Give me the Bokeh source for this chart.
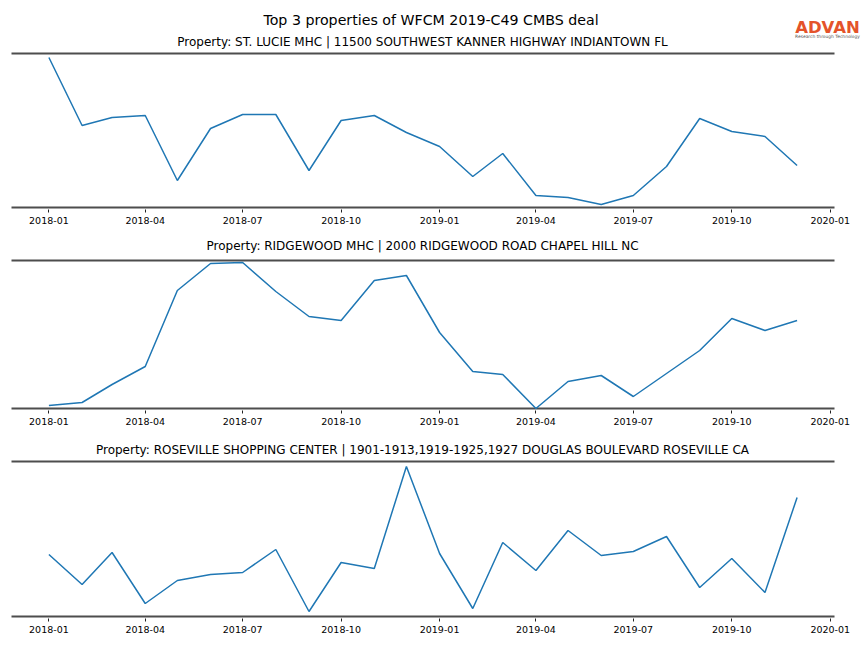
import pandas as pd
from bokeh.plotting import figure
from bokeh.layouts import column
from bokeh.models import Label, FixedTicker, DatetimeTickFormatter, Range1d
from bokeh.embed import file_html
from bokeh.resources import INLINE

# ---------------- data ----------------
months = pd.date_range("2018-01-01", "2019-12-01", freq="MS")
tick_labels = ["2018-01", "2018-04", "2018-07", "2018-10", "2019-01",
               "2019-04", "2019-07", "2019-10", "2020-01"]

main_title = "Top 3 properties of WFCM 2019-C49 CMBS deal"
panel_titles = [
    "Property: ST. LUCIE MHC | 11500 SOUTHWEST KANNER HIGHWAY INDIANTOWN FL",
    "Property: RIDGEWOOD MHC | 2000 RIDGEWOOD ROAD CHAPEL HILL NC",
    "Property: ROSEVILLE SHOPPING CENTER | 1901-1913,1919-1925,1927 DOUGLAS BOULEVARD ROSEVILLE CA",
]
logo_text = "ADVAN"
logo_tagline = "Research through Technology"

# relative foot-traffic index (no y scale shown in the original)
st_lucie = [150, 82, 90, 92, 27, 79, 93, 93, 37, 87, 92, 75,
            61, 31, 54, 12, 10, 3, 12, 41, 89, 76, 71, 42]
ridgewood = [3, 6, 24, 42, 118, 145, 146, 117, 92, 88, 128, 133,
             76, 37, 34, 0, 27, 33, 12, 35, 58, 90, 78, 88]
roseville = [62, 32, 64, 13, 36, 42, 44, 67, 5, 54, 48, 150,
             63, 8, 74, 46, 86, 61, 65, 80, 29, 58, 24, 119]

series = [st_lucie, ridgewood, roseville]
y_tops = [154, 148, 155]          # upper y-limit of each panel (top spine)

# ---------------- layout / styling ----------------
FONT = "DejaVu Sans"
LINE_COLOR = "#1f77b4"
SPINE_COLOR = "#4d4d4d"
W = 862
AX_LEFT, AX_W = 11, 823           # axes box inside canvas (px)

x0 = months[0].value / 1e6
x1 = months[-1].value / 1e6
span = x1 - x0
x_start, x_end = x0 - 0.05 * span, x1 + 0.05 * span
ms_per_px = (x_end - x_start) / AX_W
fx_start = x_start - AX_LEFT * ms_per_px
fx_end = fx_start + W * ms_per_px
ticks = [pd.Timestamp(t + "-01").value / 1e6 for t in tick_labels]

heights = [231, 204, 204]
borders_bottom = [22, 25, 21]
y_ends = [207, 177, 181]          # extra room above each panel for titles
title_y = [166, 163, 167]

figs = []
for i in range(3):
    p = figure(width=W, height=heights[i], x_axis_type="datetime",
               output_backend="svg", toolbar_location=None,
               x_range=Range1d(fx_start, fx_end),
               y_range=Range1d(-2, y_ends[i]),
               min_border_left=0, min_border_right=0,
               min_border_top=0, min_border_bottom=borders_bottom[i])
    p.outline_line_color = None
    p.xgrid.visible = False
    p.ygrid.visible = False
    p.yaxis.visible = False
    p.background_fill_color = "white"
    p.border_fill_color = "white"

    # spines (bottom and top) spanning the axes box
    p.segment(x0=[x_start, x_start], y0=[0, y_tops[i]],
              x1=[x_end, x_end], y1=[0, y_tops[i]],
              line_color=SPINE_COLOR, line_width=2)

    p.line(months, series[i], line_color=LINE_COLOR, line_width=1.5)

    ax = p.xaxis[0]
    ax.ticker = FixedTicker(ticks=ticks)
    ax.formatter = DatetimeTickFormatter(days="%Y-%m", months="%Y-%m", years="%Y-%m")
    ax.axis_line_color = None
    ax.major_tick_line_color = "#222222"
    ax.major_tick_line_width = 1
    ax.major_tick_in = 0
    ax.major_tick_out = 3
    ax.minor_tick_line_color = None
    ax.major_label_text_font = FONT
    ax.major_label_text_font_size = "9.5px"
    ax.major_label_text_color = "black"
    ax.major_label_standoff = 4

    p.add_layout(Label(x=422, y=title_y[i], x_units="screen", y_units="data",
                       text=panel_titles[i], text_font=FONT,
                       text_font_size="12px", text_color="black",
                       text_align="center", text_baseline="middle"))
    if i == 0:
        p.add_layout(Label(x=430.5, y=188, x_units="screen", y_units="data",
                           text=main_title, text_font=FONT,
                           text_font_size="14.2px", text_color="black",
                           text_align="center", text_baseline="middle"))
        p.add_layout(Label(x=827, y=180, x_units="screen", y_units="data",
                           text=logo_text, text_font=FONT,
                           text_font_size="16.5px", text_font_style="bold",
                           text_color="#e4532a", text_align="center",
                           text_baseline="middle"))
        p.add_layout(Label(x=827, y=171, x_units="screen", y_units="data",
                           text=logo_tagline, text_font=FONT,
                           text_font_size="4.4px", text_color="#555555",
                           text_align="center", text_baseline="middle"))
    figs.append(p)

layout = column(*figs, spacing=0)
open("out.html", "w").write(file_html(layout, INLINE))
